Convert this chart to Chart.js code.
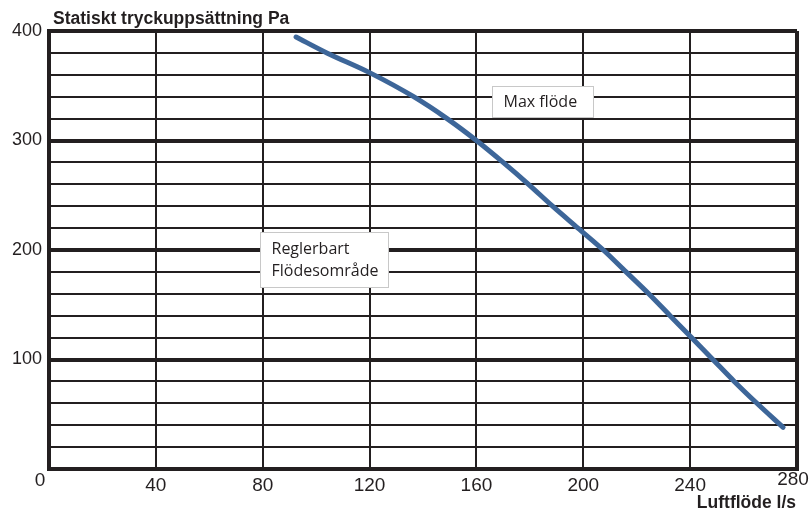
<!DOCTYPE html>
<html>
<head>
<meta charset="utf-8">
<script src="https://cdn.jsdelivr.net/npm/chart.js@4.4.1/dist/chart.umd.min.js"></script>
<style>
  html, body { margin: 0; padding: 0; background: #fff; }
  #wrap { width: 811px; height: 511px; }
</style>
</head>
<body>
<div id="wrap"><canvas id="fanChart" width="811" height="511"></canvas></div>
<script>
// fan curve (l/s vs Pa)
const flowLs     = [92.5, 104, 120, 136.5, 149, 160, 170, 179.5, 188.5, 198, 207.5, 216, 224.5, 232.5, 240.5, 248.5, 256.5, 265, 274.8];
const pressurePa = [394.5, 380, 362, 340, 320, 300, 280, 260, 240, 220, 200, 180, 160, 140, 120, 100, 80, 60, 38];

const xTickValues = [0, 40, 80, 120, 160, 200, 240, 280];
const yTickValues = [100, 200, 300, 400];

const yTitle = 'Statiskt tryckuppsättning Pa';
const xTitle = 'Luftflöde l/s';
const maxNote = ['Max flöde'];
const rangeNote = ['Reglerbart', 'Flödesområde'];

const lineColor = '#231f20';
const curveColor = '#3d6699';

// text boxes sitting on the grid, given in axis units
const notes = [
    { lines: maxNote,   x0: 165.8, x1: 203.6, y0: 321.5, y1: 349.8 },
    { lines: rangeNote, x0: 79,    x1: 126.9, y0: 166.2, y1: 216.4 }
];

const extrasPlugin = {
    id: 'extras',
    beforeDraw(chart) {
        const ctx = chart.ctx;
        ctx.save();
        ctx.fillStyle = '#fff';
        ctx.fillRect(0, 0, chart.width, chart.height);
        ctx.restore();
    },
    afterDatasetsDraw(chart) {
        const { ctx, scales: { x, y } } = chart;
        ctx.save();
        notes.forEach(n => {
            const left = Math.round(x.getPixelForValue(n.x0)) + 0.5;
            const right = Math.round(x.getPixelForValue(n.x1)) + 0.5;
            const top = Math.round(y.getPixelForValue(n.y1)) + 0.5;
            const bottom = Math.round(y.getPixelForValue(n.y0)) + 0.5;
            ctx.fillStyle = '#fff';
            ctx.fillRect(left, top, right - left, bottom - top);
            ctx.strokeStyle = '#c8c8c8';
            ctx.lineWidth = 1;
            ctx.strokeRect(left, top, right - left, bottom - top);
            ctx.fillStyle = '#231f20';
            ctx.font = '16px "Open Sans", sans-serif';
            ctx.textBaseline = 'middle';
            ctx.textAlign = 'left';
            const h = bottom - top;
            const step = 22;
            const first = top + h / 2 - (n.lines.length - 1) * step / 2;
            n.lines.forEach((t, i) => ctx.fillText(t, left + 11, first + i * step));
        });
        ctx.restore();
    },
    afterDraw(chart) {
        const { ctx, scales: { x } } = chart;
        const first = xTickValues[0];
        const last = xTickValues[xTickValues.length - 1];
        ctx.save();
        ctx.fillStyle = lineColor;
        ctx.font = 'bold 17.5px Arial, "Liberation Sans", sans-serif';
        ctx.textBaseline = 'alphabetic';
        ctx.textAlign = 'left';
        ctx.fillText(yTitle, 53, 24);
        ctx.textAlign = 'right';
        ctx.fillText(xTitle, 796, 508);
        // end labels sit a little inside/outside the corners
        ctx.font = '19px Arial, "Liberation Sans", sans-serif';
        ctx.textAlign = 'center';
        ctx.textBaseline = 'middle';
        ctx.fillText(String(first), x.getPixelForValue(first) - 9, 481);
        ctx.fillText(String(last), x.getPixelForValue(last) - 4, 480);
        ctx.restore();
    }
};

const ctx = document.getElementById('fanChart').getContext('2d');

new Chart(ctx, {
    type: 'line',
    data: {
        datasets: [{
            data: flowLs.map((f, i) => ({ x: f, y: pressurePa[i] })),
            borderColor: curveColor,
            borderWidth: 5,
            borderCapStyle: 'round',
            pointRadius: 0,
            cubicInterpolationMode: 'monotone',
            fill: false
        }]
    },
    options: {
        responsive: false,
        animation: false,
        devicePixelRatio: 1,
        layout: { padding: { top: 31, right: 14, left: 0, bottom: 0 } },
        plugins: {
            legend: { display: false },
            tooltip: { enabled: false }
        },
        scales: {
            x: {
                type: 'linear',
                min: 0,
                max: 280,
                afterBuildTicks: scale => { scale.ticks = xTickValues.map(v => ({ value: v })); },
                afterFit: scale => {
                    scale.height = 42;
                    scale.paddingLeft = 0;
                    scale.paddingRight = 0;
                },
                ticks: {
                    autoSkip: false,
                    maxRotation: 0,
                    padding: 5,
                    color: lineColor,
                    font: { family: 'Arial, "Liberation Sans", sans-serif', size: 19 },
                    callback: v => (v === 0 || v === 280 ? '' : v)
                },
                grid: {
                    drawTicks: false,
                    color: lineColor,
                    lineWidth: c => (c.tick && (c.tick.value === 0 || c.tick.value === 280) ? 4 : 2)
                },
                border: { display: true, color: lineColor, width: 4 }
            },
            y: {
                min: 0,
                max: 400,
                ticks: {
                    stepSize: 20,
                    autoSkip: false,
                    padding: 7,
                    color: lineColor,
                    font: { family: 'Arial, "Liberation Sans", sans-serif', size: 18 },
                    callback: v => (yTickValues.includes(v) ? v : '')
                },
                afterFit: scale => {
                    scale.width = 49;
                    scale.paddingTop = 0;
                    scale.paddingBottom = 0;
                },
                grid: {
                    drawTicks: false,
                    color: lineColor,
                    lineWidth: c => (c.tick && c.tick.value % 100 === 0 ? 4 : 2)
                },
                border: { display: true, color: lineColor, width: 4 }
            }
        }
    },
    plugins: [extrasPlugin]
});
</script>
</body>
</html>
